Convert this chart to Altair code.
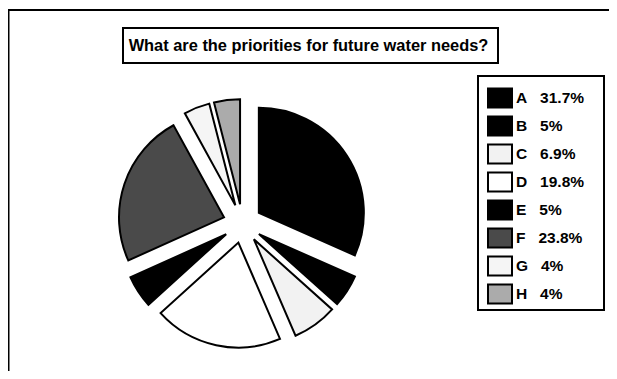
import altair as alt
import pandas as pd

# ---- data ----
categories = ["A", "B", "C", "D", "E", "F", "G", "H"]
shares = [31.7, 5, 6.9, 19.8, 5, 23.8, 4, 4]
share_labels = ["31.7%", "5%", "6.9%", "19.8%", "5%", "23.8%", "4%", "4%"]
title_text = "What are the priorities for future water needs?"

df = pd.DataFrame({"cat": categories, "v": shares, "lab": share_labels})
one = pd.DataFrame({"k": [0]})

# ---- layout / style ----
W, H = 601, 363
CX, CY, R, EXPLODE = 234.5, 215.5, 105, 19.5
fills = ["#000000", "#000000", "#f2f2f2", "#ffffff",
         "#000000", "#4a4a4a", "#f5f5f5", "#ababab"]
FONT = "Liberation Sans"
NB = "\u00a0"

pie = (
    alt.Chart(df)
    .transform_joinaggregate(total="sum(v)")
    .transform_window(cum="sum(v)", sort=[alt.SortField("cat")])
    .transform_calculate(
        mid="(datum.cum - datum.v/2)/datum.total*2*PI",
        px=f"{CX} + {EXPLODE}*sin(datum.mid)",
        py=f"{CY} - {EXPLODE}*cos(datum.mid)",
        legend_label=f"datum.cat + '{NB}{NB}{NB}' + datum.lab",
    )
    .mark_arc(outerRadius=R, stroke="black", strokeWidth=2)
    .encode(
        theta=alt.Theta("v:Q", stack=True),
        order=alt.Order("cat:N"),
        x=alt.X("px:Q", scale=None, axis=None),
        y=alt.Y("py:Q", scale=None, axis=None),
        color=alt.Color(
            "legend_label:N",
            scale=alt.Scale(range=fills),
            legend=alt.Legend(
                title=None,
                orient="none",
                legendX=479,
                legendY=77,
                padding=0,
                symbolType="M-1,-0.8H1V0.8H-1Z",
                symbolSize=576,
                symbolStrokeColor="black",
                symbolStrokeWidth=2,
                symbolOpacity=1,
                labelFont=FONT,
                labelFontSize=15.5,
                labelFontWeight="bold",
                labelColor="black",
                labelOffset=3,
                rowPadding=0,
                labelLimit=200,
            ),
        ),
    )
)

frame_top = alt.Chart(one).mark_rule(color="black", strokeWidth=2).encode(
    x=alt.value(0), x2=alt.value(W + 10), y=alt.value(2)
)
frame_left = alt.Chart(one).mark_rule(color="black", strokeWidth=2).encode(
    x=alt.value(0.5), y=alt.value(2), y2=alt.value(H + 10)
)
title_box = alt.Chart(one).mark_rect(fill="white", stroke="black", strokeWidth=2).encode(
    x=alt.value(115), x2=alt.value(490), y=alt.value(20), y2=alt.value(55)
)
title = alt.Chart(one).mark_text(
    text=title_text, font=FONT, fontSize=16.4, fontWeight="bold",
    align="center", baseline="middle", color="black"
).encode(x=alt.value(300.5), y=alt.value(37.5))
legend_box = alt.Chart(one).mark_rect(fill="white", stroke="black", strokeWidth=2).encode(
    x=alt.value(470), x2=alt.value(596), y=alt.value(68), y2=alt.value(302)
)

chart = (
    alt.layer(frame_top, frame_left, title_box, title, legend_box, pie)
    .properties(width=W, height=H, autosize=alt.AutoSizeParams(type="none"), padding=0)
    .configure_view(stroke=None)
)

chart.save("out.html", embed_options={"renderer": "svg", "actions": False})
